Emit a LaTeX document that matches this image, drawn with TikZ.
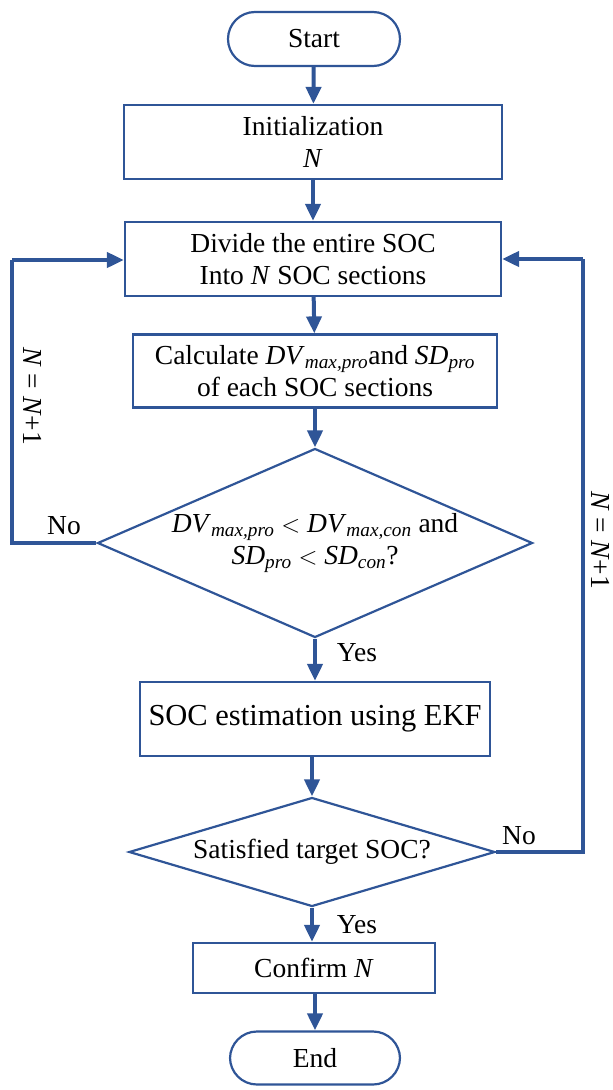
\documentclass[tikz,border=0pt]{standalone}
\usepackage{fontspec}
\setmainfont{Liberation Serif}
\usetikzlibrary{arrows.meta,shapes.geometric}
\definecolor{flowblue}{RGB}{47,85,151}
\newcommand\qty[2]{\textit{#1}\textsubscript{\textit{#2}}}
\begin{document}
\begin{tikzpicture}[x=1pt,y=1pt,
  every node/.style={font=\fontsize{27.5}{32}\selectfont},
  box/.style={draw=flowblue,line width=2.2pt,align=center,inner sep=0pt},
  term/.style={box,rounded corners=27pt},
  decision/.style={draw=flowblue,line width=2.2pt,diamond,inner sep=0pt},
  flow/.style={draw=flowblue,line width=4pt,-{Triangle[length=17pt,width=15pt]}},
  loopline/.style={draw=flowblue,line width=4pt},
  tag/.style={inner sep=0pt}
]
\path[use as bounding box] (0,0) rectangle (613,-1090);

% nodes
\node[term,minimum width=172pt,minimum height=54pt] (start) at (314,-39) {Start};
\node[box,minimum width=378pt,minimum height=74pt] (init) at (313,-142) {Initialization\\\textit{N}};
\node[box,minimum width=376pt,minimum height=74pt] (divide) at (313,-259) {Divide the entire SOC\\Into \textit{N} SOC sections};
\node[box,minimum width=364pt,minimum height=73pt] (calc) at (315,-371) {Calculate \qty{DV}{max,pro}and \qty{SD}{pro}\\of each SOC sections};
\node[decision,minimum width=435pt,minimum height=189pt] (check) at (315,-543) {};
\node[tag,align=center] (checktext) at (check.center) {\qty{DV}{max,pro} $<$ \qty{DV}{max,con} and\\\qty{SD}{pro} $<$ \qty{SD}{con}?};
\node[box,minimum width=350pt,minimum height=74pt,font=\fontsize{30.5}{34}\selectfont] (est) at (315,-719) {SOC estimation using EKF};
\node[decision,minimum width=366pt,minimum height=109pt] (target) at (312,-852) {};
\node[tag] (targettext) at (target.center) {Satisfied target SOC?};
\node[box,minimum width=242pt,minimum height=50pt] (confirm) at (314,-968) {Confirm \textit{N}};
\node[term,minimum width=170pt,minimum height=53pt] (end) at (315,-1058) {End};

% loop corners
\coordinate (l1) at (12,-543);
\coordinate (l2) at (12,-260);
\coordinate (r1) at (583,-852);
\coordinate (r2) at (583,-259);

% main flow
\draw[flow] (start) -- (init);
\draw[flow] (init) -- (divide);
\draw[flow] (divide) -- (calc);
\draw[flow] (calc) -- (check);
\draw[flow] (check.south) -- (check.south |- est.north);
\draw[flow] (est.south -| target.north) -- (target.north);
\draw[flow] (target.south) -- (target.south |- confirm.north);
\draw[flow] (confirm.south -| end.north) -- (end.north);

% feedback loops
\draw[loopline,line join=miter] (check.west) -- (l1) -- (l2);
\draw[flow] (l2) -- (divide.west |- l2);
\draw[loopline,line join=miter] (target.east) -- (r1) -- (r2);
\draw[flow] (r2) -- (divide.east |- r2);

% labels
\node[tag] (no1) at (64,-526) {No};
\node[tag] (yes1) at (357,-653) {Yes};
\node[tag] (no2) at (519,-836) {No};
\node[tag] (yes2) at (357,-925) {Yes};
\node[tag,rotate=-90] (inc1) at (33,-396) {\textit{N} = \textit{N}+1};
\node[tag,rotate=-90] (inc2) at (601,-540) {\textit{N} = \textit{N}+1};
\end{tikzpicture}
\end{document}
